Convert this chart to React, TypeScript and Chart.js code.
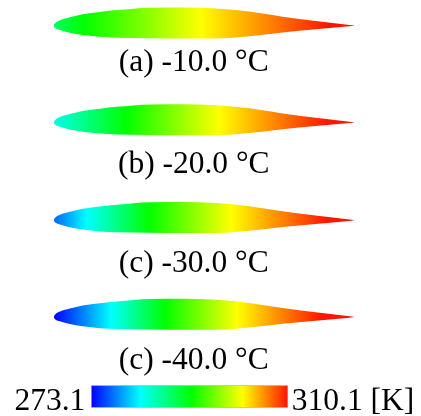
import React, { useEffect, useRef } from "react";
import { Chart, registerables } from "chart.js";

Chart.register(...registerables);

// Chord stations and surface offsets of the airfoil (fractions of the chord)
const chordStations = [0, 0.0015, 0.005, 0.02, 0.053, 0.096, 0.153, 0.21, 0.32, 0.43, 0.54, 0.65, 0.76, 0.87, 0.983, 1];
const upperSurface = [0, 0.005, 0.0095, 0.018, 0.028, 0.0385, 0.046, 0.052, 0.06, 0.061, 0.0575, 0.047, 0.03, 0.016, 0.0022, 0];
const lowerSurface = [0, 0.0042, 0.0078, 0.014, 0.023, 0.031, 0.037, 0.04, 0.0412, 0.0422, 0.0422, 0.035, 0.0223, 0.012, 0.002, 0];

// Panel labels (exactly as printed) and chord-line heights
const panelLabels = ["(a) -10.0 °C", "(b) -20.0 °C", "(c) -30.0 °C", "(c) -40.0 °C"];
const panelCenters = [0.0839, 0.4056, 0.7307, 1.0524];

// Colour scale: temperature anchors in kelvin and their colours
const scaleMin = 273.1;
const scaleMax = 310.1;
const anchorTemps = [273.1, 282.35, 291.97, 301.59, 310.1];
const anchorColors = ["#0000ff", "#00ffff", "#00ff00", "#ffff00", "#ff1400"];

// Surface temperature: leading edge value, then chord position of each anchor
const leadingEdgeTemps = [288.3, 283.1, 276.8, 273.1];
const isoCyan = [null, null, 0.11, 0.19];
const isoGreen = [0.1, 0.24, 0.315, 0.37];
const isoYellow = [0.49, 0.55, 0.59, 0.61];
const isoRed = [0.915, 0.91, 0.91, 0.89];

const colorbarTemps = [scaleMin, scaleMax];
const unitLabel = "[K]";

// Layout constants (pixels)
const W = 421;
const H = 416;
const CHORD_PX = 301.5;
const LE_PX = 53.5;
const BAR_LEFT = 91;
const BAR_WIDTH = 197;
const BAR_TOP = 386;
const BAR_BOTTOM = 408;
const FONT = '31.5px "Liberation Serif", "Times New Roman", serif';

function colorAt(t: number): string {
  let i = 0;
  while (i < anchorTemps.length - 2 && t > anchorTemps[i + 1]) i++;
  const f = Math.min(1, Math.max(0, (t - anchorTemps[i]) / (anchorTemps[i + 1] - anchorTemps[i])));
  const rgb = (h: string) => [1, 3, 5].map((k) => parseInt(h.slice(k, k + 2), 16));
  const a = rgb(anchorColors[i]);
  const b = rgb(anchorColors[i + 1]);
  return `rgb(${a.map((v, k) => Math.round(v + (b[k] - v) * f)).join(",")})`;
}

function airfoilFill(panel: number) {
  return (ctx: any) => {
    const xs = ctx.chart.scales.x;
    if (!xs || !ctx.chart.chartArea) return "#00ff00";
    const x0 = xs.getPixelForValue(0);
    const x1 = xs.getPixelForValue(1);
    if (!Number.isFinite(x0) || !Number.isFinite(x1)) return "#00ff00";
    const g = ctx.chart.ctx.createLinearGradient(x0, 0, x1, 0);
    g.addColorStop(0, colorAt(leadingEdgeTemps[panel]));
    const positions = [isoCyan[panel], isoGreen[panel], isoYellow[panel], isoRed[panel]];
    positions.forEach((p, k) => {
      if (p !== null) g.addColorStop(p as number, anchorColors[k + 1]);
    });
    g.addColorStop(1, anchorColors[4]);
    return g;
  };
}

function barFill(ctx: any) {
  const xs = ctx.chart.scales.xT;
  if (!xs || !ctx.chart.chartArea) return "#00ff00";
  const x0 = xs.getPixelForValue(scaleMin);
  const x1 = xs.getPixelForValue(scaleMax);
  if (!Number.isFinite(x0) || !Number.isFinite(x1)) return "#00ff00";
  const g = ctx.chart.ctx.createLinearGradient(x0, 0, x1, 0);
  anchorTemps.forEach((t, k) => g.addColorStop((t - scaleMin) / (scaleMax - scaleMin), anchorColors[k]));
  return g;
}

const textPlugin = {
  id: "panelText",
  afterDatasetsDraw(chart: any) {
    const { ctx, scales } = chart;
    ctx.save();
    ctx.font = FONT;
    ctx.fillStyle = "#000";
    ctx.textBaseline = "alphabetic";
    const baselines = [71, 173, 272, 369];
    panelLabels.forEach((s, i) => {
      ctx.textAlign = "center";
      ctx.fillText(s, scales.x.getPixelForValue(0.465), baselines[i]);
    });
    ctx.textAlign = "right";
    ctx.fillText(scaleMin.toFixed(1), scales.xT.getPixelForValue(scaleMin) - 6, 410);
    ctx.textAlign = "left";
    ctx.fillText(`${scaleMax.toFixed(1)} ${unitLabel}`, scales.xT.getPixelForValue(scaleMax) + 4, 410);
    ctx.restore();
  },
};

export default function App() {
  const ref = useRef<HTMLCanvasElement>(null);
  useEffect(() => {
    if (!ref.current) return;
    const datasets: any[] = [];
    panelCenters.forEach((c, p) => {
      datasets.push({
        label: `${panelLabels[p]} upper`,
        data: chordStations.map((x, i) => ({ x, y: c - upperSurface[i] })),
        borderWidth: 0,
        pointRadius: 0,
        cubicInterpolationMode: "monotone",
        fill: false,
      });
      datasets.push({
        label: `${panelLabels[p]} lower`,
        data: chordStations.map((x, i) => ({ x, y: c + lowerSurface[i] })),
        borderWidth: 0,
        pointRadius: 0,
        cubicInterpolationMode: "monotone",
        fill: "-1",
        backgroundColor: airfoilFill(p),
      });
    });
    const yPerPx = 1 / CHORD_PX;
    datasets.push({
      label: "scale top",
      xAxisID: "xT",
      data: colorbarTemps.map((x) => ({ x, y: BAR_TOP * yPerPx })),
      borderWidth: 1,
      borderColor: "rgba(170,180,215,0.7)",
      pointRadius: 0,
      fill: false,
    });
    datasets.push({
      label: "scale bottom",
      xAxisID: "xT",
      data: colorbarTemps.map((x) => ({ x, y: BAR_BOTTOM * yPerPx })),
      borderWidth: 1,
      borderColor: "rgba(170,180,215,0.7)",
      pointRadius: 0,
      fill: "-1",
      backgroundColor: barFill,
    });
    const kPerPx = (scaleMax - scaleMin) / BAR_WIDTH;
    const chart = new Chart(ref.current, {
      type: "line",
      data: { datasets },
      options: {
        responsive: false,
        animation: false,
        layout: { padding: 0 },
        plugins: { legend: { display: false }, tooltip: { enabled: false }, title: { display: false } },
        scales: {
          x: { type: "linear", display: false, min: -LE_PX / CHORD_PX, max: (W - LE_PX) / CHORD_PX },
          xT: {
            type: "linear",
            display: false,
            min: scaleMin - BAR_LEFT * kPerPx,
            max: scaleMin + (W - BAR_LEFT) * kPerPx,
          },
          y: { type: "linear", display: false, reverse: true, min: 0, max: H / CHORD_PX },
        },
      },
      plugins: [textPlugin],
    } as any);
    chart.update();
    return () => chart.destroy();
  }, []);
  return (
    <canvas
      ref={ref}
      width={W}
      height={H}
      style={{ position: "absolute", left: 0, top: 0, display: "block", width: W, height: H, filter: "blur(0.45px)" }}
    />
  );
}
